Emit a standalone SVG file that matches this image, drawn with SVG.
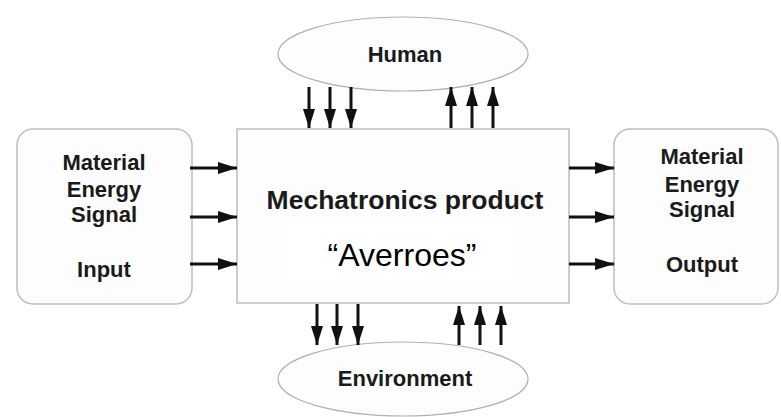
<svg xmlns="http://www.w3.org/2000/svg" width="781" height="417" viewBox="0 0 781 417">
<defs>
<marker id="ah" viewBox="0 0 19 12" refX="19" refY="6" markerWidth="19" markerHeight="12" markerUnits="userSpaceOnUse" orient="auto">
<path d="M0,0 L19,6 L0,12 Z" fill="#111"/>
</marker>
<style>
.box{fill:#fdfdfd;stroke:#bdbdbd;stroke-width:1.5}
.ell{fill:#fdfdfd;stroke:#b0b0b0;stroke-width:1.2}
.lbl{font-family:"Liberation Sans",Arial,sans-serif;font-weight:bold;font-size:22px;fill:#1a1a1a;text-anchor:middle}
.big{font-size:26.5px}
.reg{font-family:"Liberation Sans",Arial,sans-serif;font-size:32px;fill:#000;text-anchor:middle}
.arr{stroke:#111;stroke-width:3;fill:none;marker-end:url(#ah)}
</style>
</defs>
<rect width="781" height="417" fill="#fff"/>
<g id="input">
<rect class="box" x="17" y="129" width="175" height="175" rx="16"/>
<text class="lbl" x="104" y="170">Material</text>
<text class="lbl" x="104" y="197">Energy</text>
<text class="lbl" x="104" y="222">Signal</text>
<text class="lbl" x="104" y="277">Input</text>
</g>
<g id="product">
<rect class="box" x="237" y="129" width="332" height="174"/>
<rect x="282" y="218" width="236" height="68" fill="#fff"/>
<text class="lbl big" x="405" y="209">Mechatronics product</text>
<text class="reg" x="402" y="266">“Averroes”</text>
</g>
<g id="output">
<rect class="box" x="614" y="129" width="164" height="175" rx="16"/>
<text class="lbl" x="702" y="164">Material</text>
<text class="lbl" x="702" y="192">Energy</text>
<text class="lbl" x="702" y="217">Signal</text>
<text class="lbl" x="702" y="272">Output</text>
</g>
<g id="human">
<ellipse class="ell" cx="403" cy="54" rx="125" ry="37"/>
<text class="lbl" x="405" y="62">Human</text>
</g>
<g id="environment">
<ellipse class="ell" cx="403" cy="379" rx="125" ry="37"/>
<text class="lbl" x="405" y="386">Environment</text>
</g>
<g id="connectors">
<line class="arr" x1="190" y1="168" x2="237" y2="168"/>
<line class="arr" x1="190" y1="217" x2="237" y2="217"/>
<line class="arr" x1="190" y1="264" x2="237" y2="264"/>
<line class="arr" x1="569" y1="168" x2="614" y2="168"/>
<line class="arr" x1="569" y1="217" x2="614" y2="217"/>
<line class="arr" x1="569" y1="264" x2="614" y2="264"/>
<line class="arr" x1="309" y1="87" x2="309" y2="128"/>
<line class="arr" x1="330" y1="87" x2="330" y2="128"/>
<line class="arr" x1="351" y1="87" x2="351" y2="128"/>
<line class="arr" x1="451" y1="128" x2="451" y2="87"/>
<line class="arr" x1="472" y1="128" x2="472" y2="87"/>
<line class="arr" x1="493" y1="128" x2="493" y2="87"/>
<line class="arr" x1="317" y1="304" x2="317" y2="345"/>
<line class="arr" x1="337" y1="304" x2="337" y2="345"/>
<line class="arr" x1="358" y1="304" x2="358" y2="345"/>
<line class="arr" x1="459" y1="345" x2="459" y2="306"/>
<line class="arr" x1="480" y1="345" x2="480" y2="306"/>
<line class="arr" x1="501" y1="345" x2="501" y2="306"/>
</g>
</svg>
